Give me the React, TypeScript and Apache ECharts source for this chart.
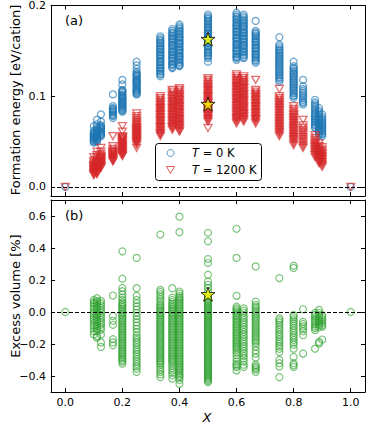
import React, { useEffect, useRef } from "react";
import * as echarts from "echarts";

// Compositions X
const compositions = [0, 0.1, 0.111, 0.125, 0.167, 0.2, 0.25, 0.333, 0.375, 0.4, 0.5, 0.6, 0.625, 0.667, 0.75, 0.8, 0.833, 0.875, 0.889, 0.9, 1.0];

// Formation energy at T = 0 K [eV/cation], one list per composition
const energy0K: number[][] = [
  [0],
  [0.067, 0.062, 0.06, 0.059, 0.058, 0.057, 0.056, 0.055, 0.054, 0.053, 0.052, 0.051, 0.05, 0.049],
  [0.074, 0.069, 0.066, 0.064, 0.063, 0.062, 0.061, 0.06, 0.058, 0.057, 0.056, 0.055, 0.054, 0.053, 0.052, 0.051, 0.05],
  [0.08, 0.072, 0.068, 0.067, 0.066, 0.065, 0.064, 0.063, 0.062, 0.061, 0.06, 0.059, 0.058, 0.057, 0.056],
  [0.102, 0.089, 0.087, 0.086, 0.085, 0.084, 0.083, 0.082, 0.08, 0.079, 0.078, 0.076],
  [0.118, 0.113, 0.107, 0.106, 0.105, 0.104, 0.102, 0.101, 0.1, 0.099, 0.098, 0.097, 0.096, 0.095, 0.094, 0.093, 0.092, 0.091, 0.09, 0.089, 0.088, 0.087, 0.086, 0.085, 0.084, 0.083],
  [0.138, 0.134, 0.13, 0.127, 0.125, 0.124, 0.123, 0.122, 0.121, 0.119, 0.118, 0.117, 0.116, 0.115, 0.114, 0.113, 0.112, 0.111, 0.109, 0.108, 0.107, 0.106, 0.105, 0.104, 0.103, 0.102],
  [0.166, 0.164, 0.162, 0.161, 0.159, 0.158, 0.156, 0.155, 0.153, 0.152, 0.151, 0.149, 0.148, 0.146, 0.145, 0.144, 0.142, 0.141, 0.139, 0.138, 0.137, 0.135, 0.134, 0.132, 0.131, 0.13, 0.128, 0.127, 0.125, 0.124, 0.122],
  [0.174, 0.172, 0.17, 0.169, 0.167, 0.166, 0.164, 0.163, 0.162, 0.16, 0.159, 0.157, 0.156, 0.155, 0.153, 0.152, 0.15, 0.149, 0.148, 0.146, 0.145, 0.143, 0.142, 0.141, 0.139, 0.138, 0.136, 0.135, 0.134, 0.132, 0.131],
  [0.179, 0.177, 0.175, 0.174, 0.172, 0.171, 0.169, 0.168, 0.166, 0.165, 0.164, 0.162, 0.161, 0.159, 0.158, 0.157, 0.155, 0.154, 0.152, 0.151, 0.15, 0.148, 0.147, 0.145, 0.144, 0.143, 0.141, 0.14, 0.138, 0.137, 0.135, 0.134, 0.133],
  [0.19, 0.188, 0.186, 0.185, 0.183, 0.182, 0.18, 0.179, 0.177, 0.176, 0.175, 0.173, 0.172, 0.17, 0.169, 0.168, 0.166, 0.165, 0.163, 0.162, 0.161, 0.159, 0.158, 0.156, 0.155, 0.154, 0.152, 0.151, 0.149, 0.148, 0.147, 0.145, 0.144, 0.142, 0.138],
  [0.192, 0.19, 0.188, 0.187, 0.185, 0.184, 0.182, 0.181, 0.179, 0.178, 0.177, 0.175, 0.174, 0.172, 0.171, 0.17, 0.168, 0.167, 0.165, 0.164, 0.163, 0.161, 0.16, 0.158, 0.157, 0.156, 0.154, 0.153, 0.151, 0.15, 0.149, 0.147, 0.146, 0.144, 0.143, 0.142, 0.14],
  [0.19, 0.188, 0.186, 0.184, 0.183, 0.181, 0.18, 0.178, 0.177, 0.176, 0.174, 0.173, 0.171, 0.17, 0.169, 0.167, 0.166, 0.164, 0.163, 0.162, 0.16, 0.159, 0.157, 0.156, 0.155, 0.153, 0.152, 0.15, 0.149, 0.148, 0.146, 0.145, 0.143, 0.142],
  [0.183, 0.172, 0.17, 0.169, 0.167, 0.166, 0.164, 0.163, 0.161, 0.16, 0.159, 0.157, 0.156, 0.154, 0.153, 0.152, 0.15, 0.149, 0.147, 0.146, 0.145, 0.143, 0.142, 0.14, 0.139, 0.137],
  [0.165, 0.157, 0.155, 0.153, 0.151, 0.15, 0.148, 0.147, 0.145, 0.144, 0.142, 0.141, 0.139, 0.138, 0.136, 0.135, 0.133, 0.132, 0.13, 0.129, 0.127, 0.126, 0.124, 0.123, 0.121, 0.12, 0.118, 0.116],
  [0.138, 0.133, 0.131, 0.13, 0.128, 0.127, 0.125, 0.124, 0.122, 0.121, 0.119, 0.118, 0.116, 0.115, 0.113, 0.112, 0.11, 0.109, 0.107, 0.106, 0.104, 0.103, 0.101, 0.1, 0.098],
  [0.118, 0.111, 0.108, 0.106, 0.104, 0.102, 0.1, 0.098, 0.096, 0.094, 0.093, 0.091],
  [0.096, 0.093, 0.091, 0.089, 0.087, 0.085, 0.083, 0.081, 0.08, 0.078, 0.077, 0.075, 0.074, 0.072, 0.071, 0.069, 0.068, 0.066, 0.065],
  [0.087, 0.084, 0.082, 0.08, 0.078, 0.076, 0.074, 0.073, 0.071, 0.07, 0.068, 0.067, 0.065, 0.064, 0.062, 0.061, 0.059, 0.057],
  [0.08, 0.077, 0.075, 0.073, 0.071, 0.07, 0.068, 0.067, 0.065, 0.064, 0.062, 0.061, 0.059, 0.058, 0.056],
  [0],
];

// Formation energy at T = 1200 K [eV/cation]
const energy1200K: number[][] = [
  [0],
  [0.033, 0.029, 0.027, 0.025, 0.024, 0.023, 0.022, 0.021, 0.02, 0.019, 0.018, 0.017, 0.016, 0.015, 0.014, 0.013],
  [0.039, 0.035, 0.032, 0.03, 0.028, 0.027, 0.026, 0.025, 0.024, 0.023, 0.022, 0.021, 0.02, 0.019, 0.018, 0.017, 0.016, 0.015, 0.014],
  [0.043, 0.039, 0.036, 0.034, 0.033, 0.032, 0.031, 0.03, 0.029, 0.028, 0.027, 0.026, 0.025, 0.024, 0.023, 0.022, 0.021],
  [0.056, 0.045, 0.042, 0.04, 0.039, 0.038, 0.037, 0.036, 0.035, 0.034, 0.033, 0.032, 0.031, 0.03, 0.029, 0.028],
  [0.067, 0.061, 0.056, 0.055, 0.054, 0.053, 0.052, 0.051, 0.05, 0.049, 0.048, 0.047, 0.046, 0.045, 0.044, 0.043, 0.042, 0.041, 0.04, 0.039, 0.038, 0.037, 0.036, 0.035, 0.034],
  [0.081, 0.078, 0.076, 0.074, 0.072, 0.071, 0.069, 0.068, 0.066, 0.065, 0.064, 0.063, 0.062, 0.061, 0.06, 0.059, 0.058, 0.057, 0.056, 0.055, 0.054, 0.053, 0.052, 0.051, 0.05, 0.049, 0.048, 0.046, 0.043],
  [0.1, 0.098, 0.096, 0.094, 0.093, 0.091, 0.09, 0.088, 0.087, 0.086, 0.084, 0.083, 0.081, 0.08, 0.079, 0.077, 0.076, 0.074, 0.073, 0.072, 0.07, 0.069, 0.067, 0.066, 0.065, 0.063, 0.062, 0.06, 0.059, 0.058, 0.056],
  [0.107, 0.105, 0.103, 0.101, 0.1, 0.098, 0.097, 0.095, 0.094, 0.093, 0.091, 0.09, 0.088, 0.087, 0.086, 0.084, 0.083, 0.081, 0.08, 0.079, 0.077, 0.076, 0.074, 0.073, 0.072, 0.07, 0.069, 0.067, 0.066, 0.065, 0.063],
  [0.109, 0.107, 0.105, 0.103, 0.102, 0.1, 0.099, 0.097, 0.096, 0.095, 0.093, 0.092, 0.09, 0.089, 0.088, 0.086, 0.085, 0.083, 0.082, 0.081, 0.079, 0.078, 0.076, 0.075, 0.074, 0.072, 0.071, 0.069, 0.068, 0.067, 0.065, 0.064, 0.062, 0.061],
  [0.12, 0.118, 0.116, 0.114, 0.113, 0.111, 0.11, 0.108, 0.107, 0.106, 0.104, 0.103, 0.101, 0.1, 0.099, 0.097, 0.096, 0.094, 0.093, 0.092, 0.09, 0.089, 0.087, 0.086, 0.085, 0.083, 0.082, 0.08, 0.079, 0.078, 0.076, 0.075, 0.073, 0.072, 0.065],
  [0.124, 0.122, 0.12, 0.118, 0.117, 0.115, 0.114, 0.112, 0.111, 0.11, 0.108, 0.107, 0.105, 0.104, 0.103, 0.101, 0.1, 0.098, 0.097, 0.096, 0.094, 0.093, 0.091, 0.09, 0.089, 0.087, 0.086, 0.084, 0.083, 0.082, 0.08, 0.079, 0.077, 0.076, 0.075, 0.073, 0.072, 0.07],
  [0.122, 0.12, 0.118, 0.116, 0.115, 0.113, 0.112, 0.11, 0.109, 0.108, 0.106, 0.105, 0.103, 0.102, 0.101, 0.099, 0.098, 0.096, 0.095, 0.094, 0.092, 0.091, 0.089, 0.088, 0.087, 0.085, 0.084, 0.082, 0.081, 0.08, 0.078, 0.077, 0.075, 0.074, 0.072],
  [0.118, 0.107, 0.105, 0.103, 0.102, 0.1, 0.099, 0.097, 0.096, 0.095, 0.093, 0.092, 0.09, 0.089, 0.088, 0.086, 0.085, 0.083, 0.082, 0.081, 0.079, 0.078, 0.076, 0.075, 0.074, 0.072, 0.07],
  [0.108, 0.1, 0.098, 0.096, 0.094, 0.093, 0.091, 0.09, 0.088, 0.087, 0.085, 0.084, 0.082, 0.081, 0.079, 0.078, 0.076, 0.075, 0.073, 0.072, 0.07, 0.069, 0.067, 0.066, 0.064, 0.063, 0.061, 0.06, 0.058, 0.056],
  [0.089, 0.086, 0.084, 0.082, 0.08, 0.079, 0.077, 0.076, 0.074, 0.073, 0.071, 0.07, 0.068, 0.067, 0.065, 0.064, 0.062, 0.061, 0.059, 0.058, 0.056, 0.055, 0.053, 0.052, 0.05, 0.048, 0.046],
  [0.074, 0.068, 0.065, 0.063, 0.061, 0.059, 0.057, 0.055, 0.053, 0.051, 0.049, 0.047, 0.045, 0.043],
  [0.057, 0.054, 0.052, 0.05, 0.048, 0.047, 0.045, 0.044, 0.042, 0.041, 0.039, 0.038, 0.036, 0.035, 0.033],
  [0.048, 0.045, 0.043, 0.041, 0.04, 0.038, 0.037, 0.035, 0.034, 0.032, 0.031, 0.029, 0.028, 0.026],
  [0.044, 0.041, 0.039, 0.037, 0.036, 0.034, 0.033, 0.031, 0.03, 0.028, 0.027, 0.025, 0.024, 0.022],
  [0],
];

// Excess volume [%]
const excessVolume: number[][] = [
  [0],
  [0.075, 0.06, 0.05, 0.035, 0.02, 0.005, -0.01, -0.025, -0.04, -0.055, -0.07, -0.085, -0.1, -0.12, -0.14],
  [0.086, 0.07, 0.06, 0.045, 0.03, 0.015, 0.0, -0.015, -0.03, -0.045, -0.06, -0.075, -0.09, -0.105, -0.12, -0.15, -0.16],
  [0.07, 0.055, 0.04, 0.025, 0.01, -0.005, -0.02, -0.035, -0.05, -0.065, -0.08, -0.095, -0.11, -0.14, -0.19, -0.218],
  [0.103, -0.025, -0.055, -0.08, -0.17, -0.19, -0.208],
  [0.379, 0.208, 0.15, 0.13, 0.11, 0.09, 0.075, 0.06, 0.05, 0.04, 0.03, 0.02, 0.01, 0.0, -0.01, -0.02, -0.03, -0.04, -0.05, -0.06, -0.07, -0.08, -0.09, -0.1, -0.11, -0.12, -0.13, -0.14, -0.15, -0.16, -0.17, -0.18, -0.19, -0.2, -0.21, -0.22, -0.23, -0.24, -0.25, -0.26, -0.27, -0.28, -0.29, -0.3, -0.31, -0.323],
  [0.338, 0.149, 0.1, 0.075, 0.055, 0.035, 0.015, -0.005, -0.025, -0.045, -0.065, -0.085, -0.105, -0.125, -0.145, -0.16, -0.175, -0.19, -0.205, -0.22, -0.235, -0.25, -0.265, -0.28, -0.295, -0.31, -0.325, -0.34, -0.355, -0.375],
  [0.484, 0.138, 0.125, 0.11, 0.095, 0.08, 0.065, 0.05, 0.04, 0.03, 0.02, 0.01, 0.0, -0.01, -0.02, -0.03, -0.04, -0.05, -0.06, -0.07, -0.08, -0.09, -0.1, -0.11, -0.12, -0.13, -0.14, -0.15, -0.16, -0.17, -0.18, -0.19, -0.2, -0.21, -0.22, -0.23, -0.24, -0.25, -0.26, -0.27, -0.28, -0.29, -0.3, -0.31, -0.32, -0.33, -0.345, -0.36, -0.375, -0.39, -0.407],
  [0.149, 0.09, 0.075, 0.062, 0.05, 0.04, 0.03, 0.02, 0.01, 0.0, -0.01, -0.02, -0.03, -0.04, -0.05, -0.06, -0.07, -0.08, -0.09, -0.1, -0.11, -0.12, -0.13, -0.14, -0.15, -0.16, -0.17, -0.18, -0.19, -0.2, -0.21, -0.22, -0.23, -0.24, -0.25, -0.26, -0.27, -0.28, -0.29, -0.3, -0.31, -0.32, -0.335, -0.35, -0.365, -0.38, -0.395, -0.417],
  [0.596, 0.499, 0.128, 0.115, 0.1, 0.09, 0.08, 0.07, 0.06, 0.05, 0.04, 0.03, 0.02, 0.01, 0.0, -0.01, -0.02, -0.03, -0.04, -0.05, -0.06, -0.07, -0.08, -0.09, -0.1, -0.11, -0.12, -0.13, -0.14, -0.15, -0.16, -0.17, -0.18, -0.19, -0.2, -0.21, -0.22, -0.23, -0.24, -0.25, -0.26, -0.27, -0.28, -0.29, -0.3, -0.31, -0.32, -0.33, -0.34, -0.35, -0.36, -0.37, -0.38, -0.39, -0.4, -0.41, -0.425, -0.449],
  [0.495, 0.442, 0.331, 0.306, 0.233, 0.19, 0.17, 0.15, 0.13, 0.1, 0.085, 0.075, 0.066, 0.058, 0.05, 0.042, 0.034, 0.026, 0.018, 0.01, 0.002, -0.006, -0.014, -0.022, -0.03, -0.038, -0.046, -0.054, -0.062, -0.07, -0.078, -0.086, -0.094, -0.102, -0.11, -0.118, -0.126, -0.134, -0.142, -0.15, -0.158, -0.166, -0.174, -0.182, -0.19, -0.198, -0.206, -0.214, -0.222, -0.23, -0.238, -0.246, -0.254, -0.262, -0.27, -0.278, -0.286, -0.294, -0.302, -0.31, -0.318, -0.326, -0.334, -0.342, -0.35, -0.358, -0.366, -0.374, -0.382, -0.39, -0.398, -0.406, -0.414, -0.422, -0.43, -0.438],
  [0.52, 0.338, 0.101, 0.033, 0.022, 0.012, 0.002, -0.008, -0.018, -0.028, -0.038, -0.048, -0.058, -0.068, -0.078, -0.088, -0.098, -0.108, -0.118, -0.128, -0.138, -0.148, -0.158, -0.168, -0.178, -0.188, -0.198, -0.208, -0.218, -0.228, -0.24, -0.255, -0.27, -0.29, -0.31, -0.325, -0.335, -0.345, -0.365],
  [0.023, 0.008, -0.005, -0.02, -0.035, -0.05, -0.065, -0.08, -0.095, -0.11, -0.125, -0.14, -0.155, -0.17, -0.185, -0.2, -0.215, -0.23, -0.245, -0.26, -0.275, -0.29, -0.31, -0.33, -0.344],
  [0.285, 0.065, 0.045, 0.033, 0.02, 0.008, -0.004, -0.016, -0.028, -0.04, -0.052, -0.064, -0.076, -0.088, -0.1, -0.112, -0.124, -0.136, -0.148, -0.16, -0.172, -0.184, -0.196, -0.215, -0.24, -0.26, -0.285, -0.33, -0.34, -0.35, -0.36, -0.375],
  [0.212, -0.04, -0.052, -0.065, -0.08, -0.095, -0.11, -0.125, -0.14, -0.155, -0.17, -0.185, -0.2, -0.215, -0.23, -0.25, -0.3, -0.32, -0.34, -0.407],
  [0.289, 0.275, -0.019, -0.032, -0.045, -0.058, -0.07, -0.085, -0.1, -0.115, -0.13, -0.145, -0.16, -0.175, -0.19, -0.205, -0.229, -0.281, -0.32, -0.332, -0.344],
  [0.017, -0.061, -0.075, -0.09, -0.105, -0.12, -0.145, -0.26],
  [-0.006, -0.018, -0.03, -0.042, -0.054, -0.066, -0.078, -0.09, -0.1, -0.113, -0.229],
  [0.013, -0.005, -0.02, -0.035, -0.05, -0.065, -0.08, -0.095, -0.187, -0.197],
  [-0.019, -0.032, -0.045, -0.058, -0.07, -0.082, -0.092, -0.172],
  [0],
];

// Highlighted structure (star)
const starX = 0.5;
const starEnergy0K = 0.163;
const starEnergy1200K = 0.0914;
const starVolume = 0.111;

// Tick values
const xTicks = [0, 0.2, 0.4, 0.6, 0.8, 1.0];
const energyTicks = [0, 0.1, 0.2];
const volumeTicks = [-0.4, -0.2, 0, 0.2, 0.4, 0.6];

const FONT = "DejaVu Sans";
const BLUE = "#1f77b4";
const RED = "#d62728";
const GREEN = "#2ca02c";
const STAR = "path://M50,0 L61.2,34.5 L97.6,34.5 L68.2,55.9 L79.4,90.5 L50,69.1 L20.6,90.5 L31.8,55.9 L2.4,34.5 L38.8,34.5 Z";

function flatten(lists: number[][]) {
  const out: number[][] = [];
  compositions.forEach((x, i) => lists[i].forEach((v) => out.push([x, v])));
  return out;
}

const fmt = (v: number) => v.toFixed(1).replace("-", "\u2212");

function xAxisDef(gridIndex: number, position: string, showLabel: boolean) {
  return {
    type: "value",
    gridIndex,
    position,
    min: -0.05,
    max: 1.05,
    axisLine: { show: true, onZero: false, lineStyle: { color: "#000", width: 1 } },
    axisTick: { show: true, inside: true, length: 4, customValues: xTicks, lineStyle: { color: "#000", width: 1 } },
    axisLabel: { show: showLabel, customValues: xTicks, formatter: fmt, color: "#000", fontFamily: FONT, fontSize: 11, margin: 5 },
    splitLine: { show: false },
  };
}

function yAxisDef(gridIndex: number, position: string, showLabel: boolean, min: number, max: number, ticks: number[]) {
  return {
    type: "value",
    gridIndex,
    position,
    min,
    max,
    axisLine: { show: true, onZero: false, lineStyle: { color: "#000", width: 1 } },
    axisTick: { show: true, inside: true, length: 4, customValues: ticks, lineStyle: { color: "#000", width: 1 } },
    axisLabel: { show: showLabel, customValues: ticks, formatter: fmt, color: "#000", fontFamily: FONT, fontSize: 11, margin: 5 },
    splitLine: { show: false },
  };
}

const zeroLine = {
  silent: true,
  symbol: "none",
  label: { show: false },
  lineStyle: { color: "#000", type: [4, 2], width: 1 },
  data: [{ yAxis: 0 }],
};

export default function App() {
  const ref = useRef<HTMLDivElement>(null);
  useEffect(() => {
    if (!ref.current) return;
    const chart = echarts.init(ref.current, null, { renderer: "svg" });
    const option = {
      animation: false,
      backgroundColor: "#fff",
      grid: [
        { left: 51, top: 5, width: 314, height: 191 },
        { left: 51, top: 200, width: 314, height: 192 },
      ],
      xAxis: [
        xAxisDef(0, "bottom", false),
        xAxisDef(0, "top", false),
        xAxisDef(1, "bottom", true),
        xAxisDef(1, "top", false),
      ],
      yAxis: [
        yAxisDef(0, "left", true, -0.01, 0.2, energyTicks),
        yAxisDef(0, "right", false, -0.01, 0.2, energyTicks),
        yAxisDef(1, "left", true, -0.5, 0.7, volumeTicks),
        yAxisDef(1, "right", false, -0.5, 0.7, volumeTicks),
      ],
      series: [
        {
          type: "scatter",
          xAxisIndex: 0,
          yAxisIndex: 0,
          symbol: "circle",
          symbolSize: 7,
          itemStyle: { color: "transparent", borderColor: BLUE, borderWidth: 1.3, opacity: 0.65 },
          data: flatten(energy0K),
          markLine: zeroLine,
        },
        {
          type: "scatter",
          xAxisIndex: 0,
          yAxisIndex: 0,
          symbol: "triangle",
          symbolRotate: 180,
          symbolSize: [8, 7],
          itemStyle: { color: "transparent", borderColor: RED, borderWidth: 1.3, opacity: 0.65 },
          data: flatten(energy1200K),
        },
        {
          type: "scatter",
          xAxisIndex: 0,
          yAxisIndex: 0,
          symbol: STAR,
          symbolSize: 14,
          itemStyle: { color: "#ffff00", borderColor: "#000", borderWidth: 1 },
          data: [[starX, starEnergy0K], [starX, starEnergy1200K]],
          z: 5,
        },
        {
          type: "scatter",
          xAxisIndex: 2,
          yAxisIndex: 2,
          symbol: "circle",
          symbolSize: 7,
          itemStyle: { color: "transparent", borderColor: GREEN, borderWidth: 1.2, opacity: 0.62 },
          data: flatten(excessVolume),
          markLine: zeroLine,
        },
        {
          type: "scatter",
          xAxisIndex: 2,
          yAxisIndex: 2,
          symbol: STAR,
          symbolSize: 14,
          itemStyle: { color: "#ffff00", borderColor: "#000", borderWidth: 1 },
          data: [[starX, starVolume]],
          z: 5,
        },
      ],
      graphic: [
        {
          type: "text", x: 15, y: 100, rotation: Math.PI / 2,
          style: { text: "Formation energy [eV/cation]", fontFamily: FONT, fontSize: 13, fill: "#000", align: "center", verticalAlign: "middle" },
        },
        {
          type: "text", x: 15, y: 296, rotation: Math.PI / 2,
          style: { text: "Excess volume [%]", fontFamily: FONT, fontSize: 13, fill: "#000", align: "center", verticalAlign: "middle" },
        },
        {
          type: "text", x: 207, y: 417,
          style: { text: "X", fontFamily: FONT, fontSize: 13, fontStyle: "italic", fill: "#000", align: "center", verticalAlign: "middle" },
        },
        {
          type: "text", x: 65, y: 20,
          style: { text: "(a)", fontFamily: FONT, fontSize: 13, fill: "#000", align: "left", verticalAlign: "middle" },
        },
        {
          type: "text", x: 65, y: 215,
          style: { text: "(b)", fontFamily: FONT, fontSize: 13, fill: "#000", align: "left", verticalAlign: "middle" },
        },
        {
          type: "rect", shape: { x: 155.5, y: 143.5, width: 106, height: 37, r: 3 },
          style: { fill: "#fff", stroke: "#000", lineWidth: 1 }, z: 10,
        },
        {
          type: "circle", shape: { cx: 170.5, cy: 153, r: 3.5 },
          style: { fill: "none", stroke: BLUE, lineWidth: 1, opacity: 0.75 }, z: 11,
        },
        {
          type: "polygon", shape: { points: [[166.5, 166.5], [174.5, 166.5], [170.5, 173.5]] },
          style: { fill: "none", stroke: RED, lineWidth: 1, opacity: 0.75 }, z: 11,
        },
        {
          type: "text", x: 192, y: 153, z: 11,
          style: {
            text: "{i|T} = 0 K", fontFamily: FONT, fontSize: 11.5, fill: "#000", align: "left", verticalAlign: "middle",
            rich: { i: { fontStyle: "italic", fontFamily: FONT, fontSize: 11.5 } },
          },
        },
        {
          type: "text", x: 192, y: 170, z: 11,
          style: {
            text: "{i|T} = 1200 K", fontFamily: FONT, fontSize: 11.5, fill: "#000", align: "left", verticalAlign: "middle",
            rich: { i: { fontStyle: "italic", fontFamily: FONT, fontSize: 11.5 } },
          },
        },
      ],
    };
    chart.setOption(option as any);
    return () => chart.dispose();
  }, []);
  return <div ref={ref} style={{ width: 366, height: 424, position: "absolute", left: 0, top: 0 }} />;
}
